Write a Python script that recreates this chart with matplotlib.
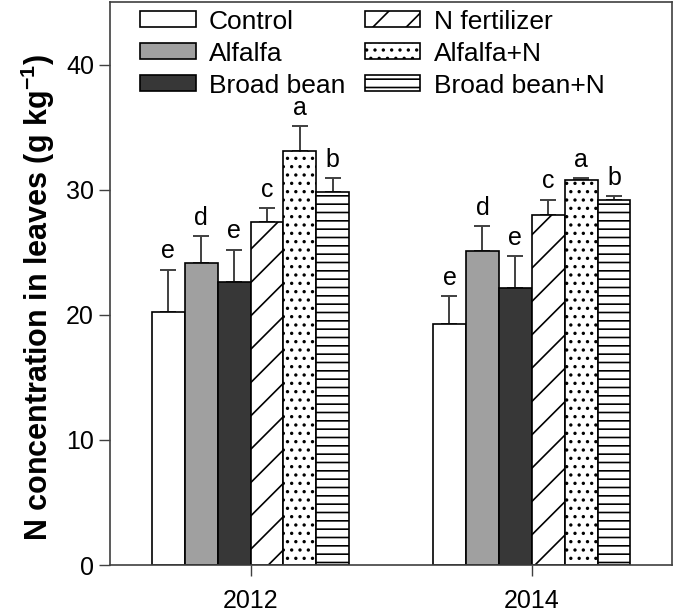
import matplotlib
matplotlib.use('Agg')
import matplotlib.pyplot as plt
import numpy as np

years = ['2012', '2014']
treatments = ['Control', 'Alfalfa', 'Broad bean', 'N fertilizer', 'Alfalfa+N', 'Broad bean+N']

# mean N concentration (g/kg) per treatment, one value per year
control = [20.2, 19.3]
alfalfa = [24.1, 25.1]
broad_bean = [22.6, 22.1]
n_fert = [27.4, 28.0]
alfalfa_n = [33.1, 30.8]
broad_bean_n = [29.85, 29.15]

# upper error bars
control_err = [3.4, 2.2]
alfalfa_err = [2.2, 2.0]
broad_bean_err = [2.6, 2.6]
n_fert_err = [1.1, 1.2]
alfalfa_n_err = [2.0, 0.15]
broad_bean_n_err = [1.1, 0.35]

letters_2012 = ['e', 'd', 'e', 'c', 'a', 'b']
letters_2014 = ['e', 'd', 'e', 'c', 'a', 'b']

plt.rcParams['font.family'] = ['Arial', 'Liberation Sans', 'DejaVu Sans']
plt.rcParams['mathtext.fontset'] = 'custom'
plt.rcParams['mathtext.rm'] = 'Liberation Sans'
plt.rcParams['mathtext.bf'] = 'Liberation Sans:bold'
plt.rcParams['hatch.linewidth'] = 1.2

means = [control, alfalfa, broad_bean, n_fert, alfalfa_n, broad_bean_n]
errs = [control_err, alfalfa_err, broad_bean_err, n_fert_err, alfalfa_n_err, broad_bean_n_err]
letters = [letters_2012, letters_2014]
colors = ['white', '#a0a0a0', '#373737', 'white', 'white', 'white']
hatches = [None, None, None, '/', '..', '--']

fig = plt.figure(figsize=(6.75, 6.15), dpi=100)
ax = fig.add_axes([0.163, 0.0813, 0.833, 0.9155])

x = np.arange(len(years))
w = 0.117
for i, (m, e) in enumerate(zip(means, errs)):
    pos = x + (i - 2.5) * w
    ax.bar(pos, m, width=w, color=colors[i], edgecolor='black', linewidth=1.2,
           hatch=hatches[i], label=treatments[i], zorder=2)
    ax.errorbar(pos, m, yerr=[np.zeros(len(m)), e], fmt='none', ecolor='#404040',
                elinewidth=1.4, capsize=6, capthick=1.4, zorder=1)
    for j in range(len(years)):
        ax.text(pos[j], m[j] + e[j] + 0.5, letters[j][i], ha='center', va='bottom', fontsize=18)

ax.set_xlim(-0.5, 1.5)
ax.set_ylim(0, 45)
ax.set_yticks([0, 10, 20, 30, 40])
ax.set_xticks(x)
ax.set_xticklabels(years)
ax.tick_params(axis='both', labelsize=18, direction='out', length=8, width=1, color='#404040')
ax.tick_params(axis='x', pad=9)
for s in ax.spines.values():
    s.set_color('#404040')
    s.set_linewidth(1.2)

ax.set_ylabel('N concentration in leaves (g kg$\\mathbf{^{-1}}$)', fontsize=22, fontweight='bold')
ax.yaxis.set_label_coords(-0.095, 0.475)

ax.legend(ncol=2, loc='upper left', bbox_to_anchor=(0.035, 1.005), frameon=False, fontsize=19,
          handlelength=2.1, handleheight=0.55, handletextpad=0.5, columnspacing=0.75,
          labelspacing=0.3, borderaxespad=0)

plt.savefig('out.png', dpi=100)
